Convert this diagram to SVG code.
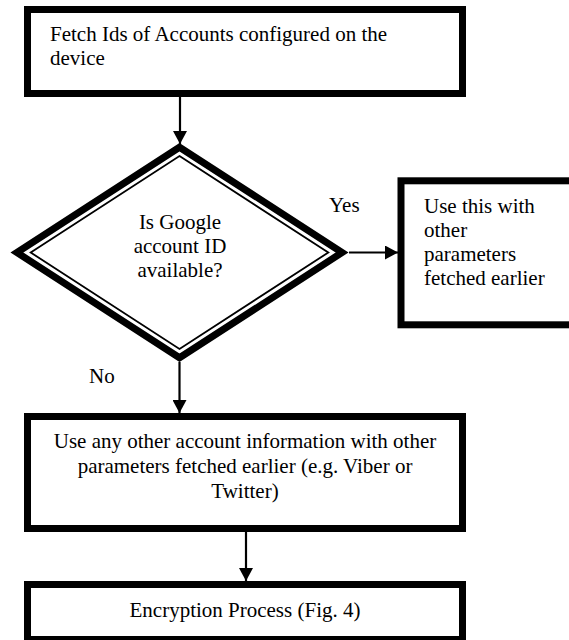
<svg xmlns="http://www.w3.org/2000/svg" width="569" height="640" viewBox="0 0 569 640">
  <style>
    .box { fill: #ffffff; stroke: #000000; stroke-width: 7; }
    .band { fill: #ffffff; stroke: #000000; stroke-width: 7; stroke-linejoin: miter; }
    .inner { fill: none; stroke: #000000; stroke-width: 1.8; stroke-linejoin: miter; }
    .link { fill: none; stroke: #000000; stroke-width: 2.2; }
    .t { font-family: 'Liberation Serif', serif; font-size: 21px; fill: #000000; }
    .mid { text-anchor: middle; }
  </style>
  <defs>
    <marker id="arrow" markerUnits="userSpaceOnUse" markerWidth="14" markerHeight="14" refX="13" refY="7" orient="auto">
      <path d="M0,0 L13,7 L0,14 Z" fill="#000000"/>
    </marker>
  </defs>

  <rect width="569" height="640" fill="#ffffff"/>

  <!-- connectors -->
  <g id="connectors">
    <line class="link" x1="180" y1="97" x2="180" y2="144" marker-end="url(#arrow)"/>
    <line class="link" x1="349" y1="252.5" x2="398" y2="252.5" marker-end="url(#arrow)"/>
    <line class="link" x1="179.5" y1="362" x2="179.5" y2="413" marker-end="url(#arrow)"/>
    <line class="link" x1="246" y1="532" x2="246" y2="581" marker-end="url(#arrow)"/>
  </g>

  <!-- step: fetch account ids -->
  <g id="fetch">
    <rect class="box" x="27.5" y="9.5" width="435" height="84"/>
    <text class="t" x="50" y="41">Fetch Ids of Accounts configured on the</text>
    <text class="t" x="50" y="65">device</text>
  </g>

  <!-- decision: google account -->
  <g id="decision">
    <polygon class="band" points="179.5,147.2 342.1,252.5 179.5,357.8 16.9,252.5"/>
    <polygon class="inner" points="179.5,156.1 328.3,252.5 179.5,348.9 30.7,252.5"/>
    <text class="t mid" x="180" y="229">Is Google</text>
    <text class="t mid" x="180" y="253">account ID</text>
    <text class="t mid" x="180" y="277">available?</text>
  </g>

  <!-- branch labels -->
  <g id="labels">
    <text class="t" x="329" y="212">Yes</text>
    <text class="t" x="89" y="383">No</text>
  </g>

  <!-- yes branch -->
  <g id="use-google">
    <rect class="box" x="401" y="180.8" width="200" height="144"/>
    <text class="t" x="424" y="213">Use this with</text>
    <text class="t" x="424" y="237">other</text>
    <text class="t" x="424" y="261">parameters</text>
    <text class="t" x="424" y="285">fetched earlier</text>
  </g>

  <!-- no branch -->
  <g id="use-other">
    <rect class="box" x="27.5" y="416.5" width="435" height="112"/>
    <text class="t mid" x="245" y="448">Use any other account information with other</text>
    <text class="t mid" x="245" y="473">parameters fetched earlier (e.g. Viber or</text>
    <text class="t mid" x="245" y="498">Twitter)</text>
  </g>

  <!-- encryption -->
  <g id="encryption">
    <rect class="box" x="27.5" y="584.5" width="435" height="55"/>
    <text class="t mid" x="245" y="617">Encryption Process (Fig. 4)</text>
  </g>
</svg>
